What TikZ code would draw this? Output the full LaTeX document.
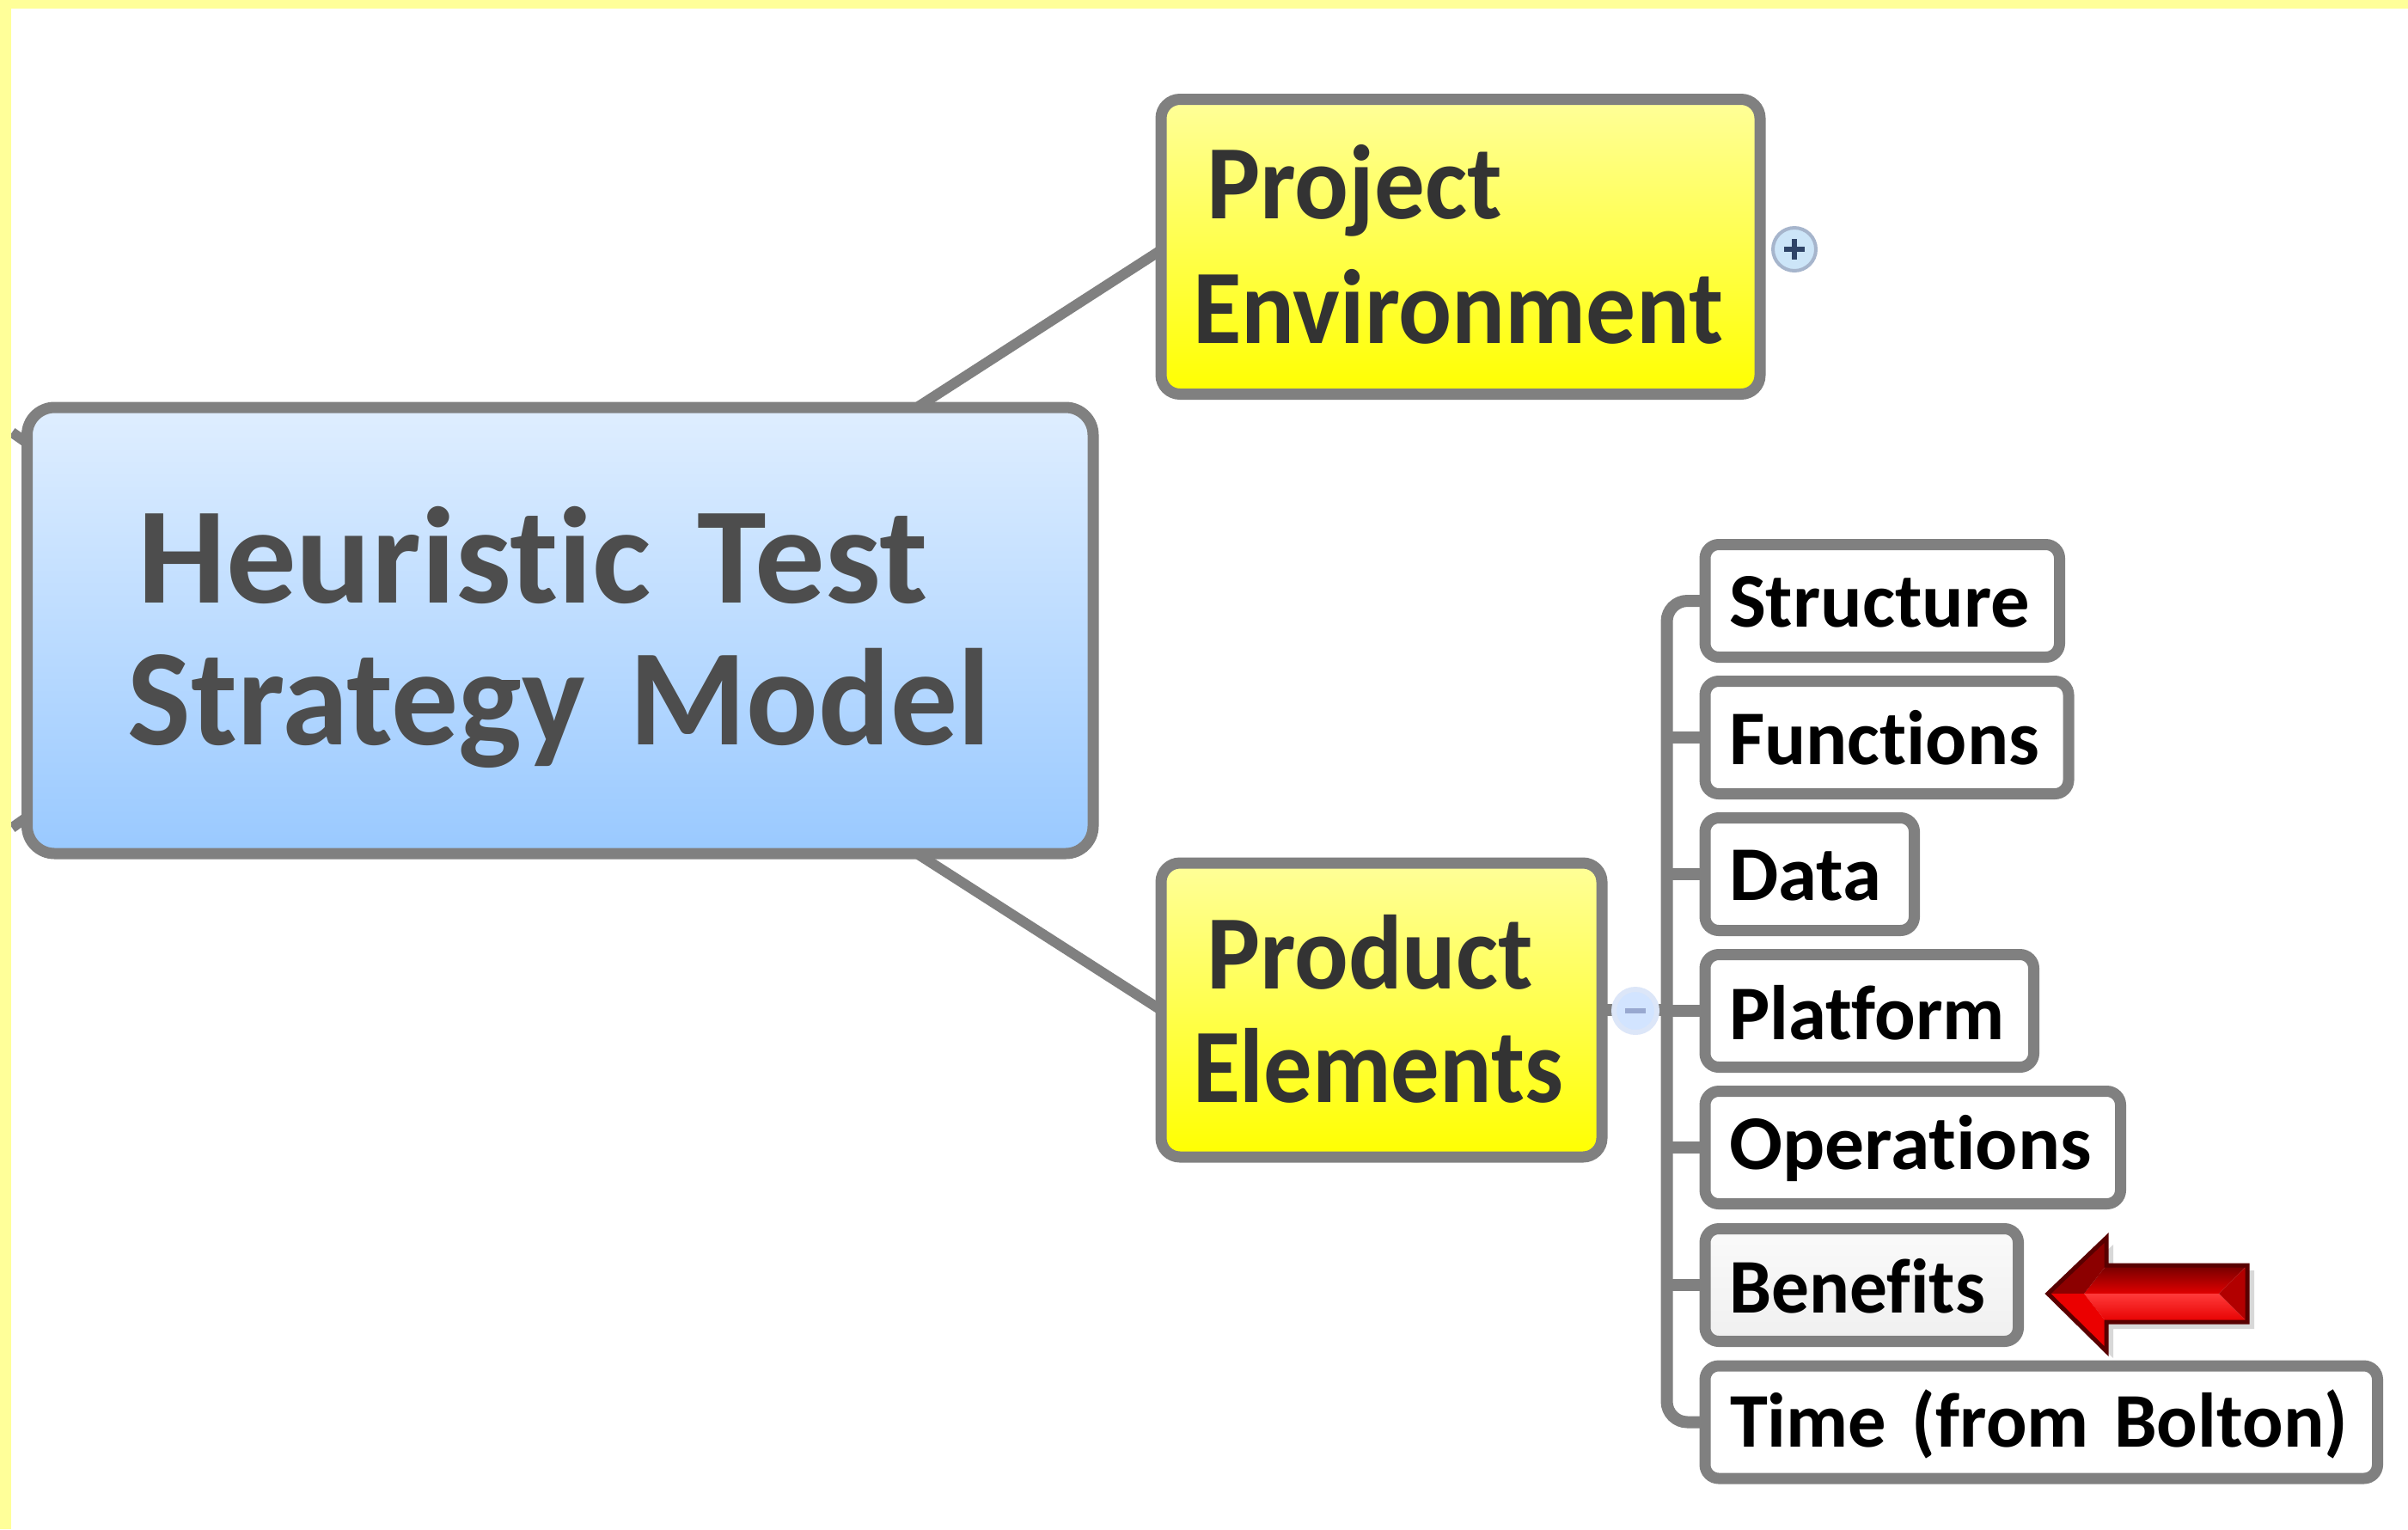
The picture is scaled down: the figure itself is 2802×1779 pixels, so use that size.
\documentclass[tikz,border=0pt]{standalone}
\usepackage{fontspec}
\usepackage{graphicx}
\setmainfont{Carlito}[Ligatures=NoCommon]
\usetikzlibrary{backgrounds}
\newdimen\pxu \pxu=0.25pt
\definecolor{edge}{HTML}{808080}
\definecolor{rim}{HTML}{FFFF99}
\definecolor{mainA}{HTML}{DFEEFF}
\definecolor{mainB}{HTML}{99C9FF}
\definecolor{mainT}{HTML}{4D4D4D}
\definecolor{midT}{HTML}{333333}
\definecolor{plusF}{HTML}{CCE5F8}
\definecolor{plusD}{HTML}{A6B5CC}
\definecolor{plusM}{HTML}{2F4468}
\definecolor{minF}{HTML}{D2E4FF}
\definecolor{minD}{HTML}{DCE6F8}
\definecolor{minM}{HTML}{98A8D0}
\definecolor{arrL}{HTML}{FF3A3A}
\newcommand\fit[2]{\resizebox{#1\pxu}{\height}{#2}}
\newcommand\ind[1]{\hspace*{#1\pxu}}
\tikzset{
  anybox/.style={draw=edge,line width=13*0.25pt,inner sep=0pt,outer sep=0pt,anchor=north west,align=left},
  mainbox/.style={anybox,rounded corners=8pt,top color=mainA,bottom color=mainB,text=mainT,font=\fontsize{40}{41.25}\selectfont\bfseries},
  midbox/.style={anybox,rounded corners=5.5pt,top color=rim,bottom color=yellow,text=midT,font=\fontsize{30.7}{36.25}\selectfont\bfseries},
  leafbox/.style={anybox,rounded corners=4pt,fill=white,text=black,font=\fontsize{22.5}{24}\selectfont\bfseries},
  link/.style={draw=edge,line width=12*0.25pt},
  branch/.style={draw=edge,line width=14*0.25pt},
}
\begin{document}
\begin{tikzpicture}[x=0.25pt,y=-0.25pt]
\useasboundingbox (0,0) rectangle (2802,1779);

% boxes
\node[mainbox,text width=1240.5\pxu,text height=227\pxu,text depth=292\pxu] (central) at (31.5,474)
  {\ind{129}\fit{919}{Heuristic Test}\\\ind{117}\fit{1004}{Strategy Model}};
\node[midbox,text width=697\pxu,text height=139\pxu,text depth=204\pxu] (project) at (1351,115.5)
  {\ind{53}\fit{344}{Project}\\\ind{37}\fit{617}{Environment}};
\node[midbox,text width=513\pxu,text height=146\pxu,text depth=196\pxu,font=\fontsize{30.7}{33}\selectfont\bfseries] (product) at (1351,1004)
  {\ind{53}\fit{380}{Product}\\\ind{37}\fit{431}{Elements}};

\node[leafbox,text width=412.5\pxu,text height=96\pxu,text depth=35\pxu] (structure) at (1984,633.5) {\ind{28}\fit{350}{Structure}};
\node[leafbox,text width=423\pxu,text height=96.5\pxu,text depth=34.5\pxu] (functions) at (1984,792.5) {\ind{28}\fit{361}{Functions}};
\node[leafbox,text width=243.5\pxu,text height=96\pxu,text depth=35\pxu] (data) at (1984,951.5) {\ind{28}\fit{177}{Data}};
\node[leafbox,text width=382.5\pxu,text height=99\pxu,text depth=32\pxu] (platform) at (1984,1110.5) {\ind{28}\fit{321}{Platform}};
\node[leafbox,text width=483.5\pxu,text height=90.5\pxu,text depth=40.5\pxu] (operations) at (1984,1269.5) {\ind{28}\fit{422}{Operations}};
\node[leafbox,text width=364.5\pxu,text height=97.5\pxu,text depth=33.5\pxu,top color=white!98!black,bottom color=white!94!black] (benefits) at (1984,1429.5) {\ind{28}\fit{298}{Benefits}};
\node[leafbox,text width=782.5\pxu,text height=94\pxu,text depth=37\pxu] (timebox) at (1984,1589) {\ind{29}\fit{719}{Time (from Bolton)}};

% expanders
\node[circle,minimum size=50*0.25pt,inner sep=0pt,fill=plusF,draw=plusD,line width=4*0.25pt] (plus) at (2088,290) {};
\draw[plusM,line width=6*0.25pt] (plus.center) ++(-12,0) -- ++(24,0) (plus.center) ++(0,-12) -- ++(0,24);
\node[circle,minimum size=50*0.25pt,inner sep=0pt,fill=minF,draw=minD,line width=6*0.25pt] (minus) at (1903,1176) {};
\draw[minM,line width=6*0.25pt] (minus.center) ++(-12,0) -- ++(24,0);

% connectors behind the boxes
\coordinate (ctop) at (1067,474);
\coordinate (cbot) at (1067,993);
\coordinate (pjin) at (1351,291);
\coordinate (stubA) at (14,503);
\coordinate (stubAe) at (31,515);
\coordinate (stubB) at (14,963);
\coordinate (stubBe) at (31,951);
\coordinate (trunktop) at (1939.5,699);
\coordinate (trunkbot) at (1939.5,1654.5);
\begin{pgfonlayer}{background}
\fill[white] (0,0) rectangle (2802,1779);
\draw[link] (ctop) -- (pjin);
\draw[link] (cbot) -- (product.west);
\draw[link] (stubA) -- (stubAe);
\draw[link] (stubB) -- (stubBe);
\draw[branch,rounded corners=6pt] (structure.west) -- (trunktop) -- (trunkbot) -- (timebox.west);
\foreach \n in {functions,data,platform,operations,benefits}
  \draw[branch] (trunktop |- \n.west) -- (\n.west);
\draw[branch] (product.east) -- (trunktop |- product.east);
\end{pgfonlayer}

% red arrow
\fill[black!25,opacity=.6] (2390,1512) -- (2459,1448) -- (2459,1478) -- (2623,1478) -- (2623,1546) -- (2459,1546) -- (2459,1580) -- cycle;
\coordinate (tip) at (2383,1505);
\coordinate (htop) at (2451,1440);
\coordinate (hbot) at (2451,1572);
\coordinate (stl) at (2451,1472);
\coordinate (sbl) at (2451,1538);
\coordinate (str) at (2615,1472);
\coordinate (sbr) at (2615,1538);
\coordinate (mid) at (2582,1505);
\coordinate (hmid) at (2425,1505);
\shade[top color=red!45!black,bottom color=red!88!black] (stl) -- (str) -- (mid) -- (hmid) -- cycle;
\shade[top color=arrL,bottom color=red!90!black] (hmid) -- (mid) -- (sbr) -- (sbl) -- cycle;
\fill[red!70!black] (str) -- (sbr) -- (mid) -- cycle;
\fill[red!55!black] (tip) -- (htop) -- (stl) -- (hmid) -- cycle;
\fill[red!92!black] (tip) -- (hmid) -- (sbl) -- (hbot) -- cycle;
\draw[draw=red!35!black,line width=5*0.25pt,line join=miter] (tip) -- (htop) -- (stl) -- (str) -- (sbr) -- (sbl) -- (hbot) -- cycle;

% yellow rim
\fill[rim] (0,0) rectangle (2802,10);
\fill[rim] (0,0) rectangle (13,1779);
\end{tikzpicture}
\end{document}
